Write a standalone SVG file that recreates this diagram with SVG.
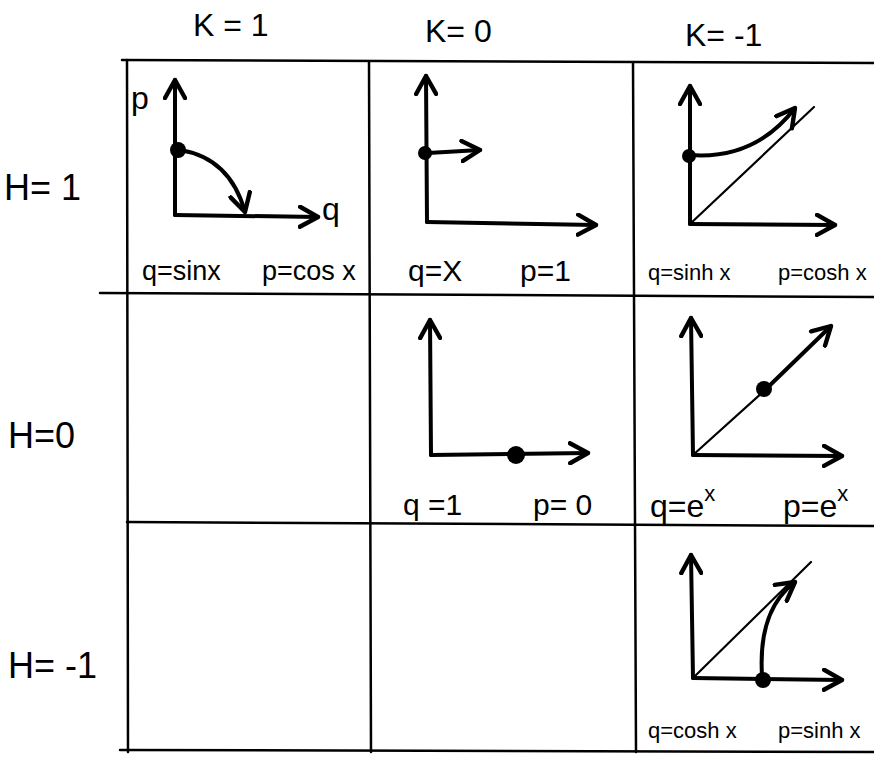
<svg xmlns="http://www.w3.org/2000/svg" width="874" height="779" viewBox="0 0 874 779">
<style>
.grid{stroke:#000;stroke-width:2.5;fill:none;stroke-linecap:round}
.ax{stroke:#000;stroke-width:4;fill:none;stroke-linecap:round;marker-end:url(#ah)}
.thin{stroke:#000;stroke-width:2.2;fill:none;stroke-linecap:round}
.curve{stroke:#000;stroke-width:4;fill:none;stroke-linecap:round;marker-end:url(#ah)}
.hd{font-family:"Liberation Sans",Arial,sans-serif;font-size:32px;fill:#000}
.lb{font-family:"Liberation Sans",Arial,sans-serif;font-size:27px;fill:#000}
.sm{font-family:"Liberation Sans",Arial,sans-serif;font-size:22px;fill:#000}
.ax-lbl{font-family:"Liberation Sans",Arial,sans-serif;font-size:32px;fill:#000}
.sup{font-size:22px}
</style>
<defs>
<marker id="ah" viewBox="0 0 12 12" refX="10" refY="6" markerWidth="6" markerHeight="6" orient="auto" markerUnits="strokeWidth">
<path d="M1,1 L10,6 L1,11" fill="none" stroke="#000" stroke-width="2.2" stroke-linecap="round" stroke-linejoin="round"/>
</marker>
</defs>
<rect width="874" height="779" fill="#fff"/>
<g id="headers">
<text class="hd" x="193" y="36">K = 1</text>
<text class="hd" x="425" y="42">K= 0</text>
<text class="hd" x="685" y="46">K= -1</text>
<text class="hd" x="4" y="200" style="font-size:36px">H= 1</text>
<text class="hd" x="8" y="448" style="font-size:36px">H=0</text>
<text class="hd" x="8" y="678" style="font-size:36px">H= -1</text>
</g>
<g id="grid">
<line class="grid" x1="122" y1="60" x2="874" y2="63"/>
<line class="grid" x1="127" y1="60" x2="128" y2="752"/>
<line class="grid" x1="369" y1="62" x2="371" y2="752"/>
<line class="grid" x1="633" y1="63" x2="636" y2="752"/>
<line class="grid" x1="100" y1="293" x2="874" y2="297"/>
<line class="grid" x1="127" y1="522" x2="874" y2="526"/>
<line class="grid" x1="120" y1="750" x2="874" y2="752"/>
</g>
<g id="cell-k1-h1">
<line class="ax" x1="175" y1="215" x2="175" y2="80"/>
<line class="ax" x1="175" y1="215" x2="318" y2="217"/>
<text class="ax-lbl" x="131" y="109">p</text>
<text class="ax-lbl" x="322" y="220">q</text>
<path class="curve" d="M180,150 Q230,158 245,212"/>
<circle cx="178" cy="150" r="8"/>
<text class="lb" x="142" y="280">q=sinx</text>
<text class="lb" x="262" y="280">p=cos x</text>
</g>
<g id="cell-k0-h1">
<line class="ax" x1="427" y1="222" x2="426" y2="76"/>
<line class="ax" x1="427" y1="222" x2="596" y2="225"/>
<path class="curve" d="M428,153 L480,150"/>
<circle cx="425" cy="153" r="7"/>
<text class="lb" x="408" y="281" style="font-size:30px">q=X</text>
<text class="lb" x="520" y="281" style="font-size:30px">p=1</text>
</g>
<g id="cell-km1-h1">
<line class="ax" x1="690" y1="224" x2="690" y2="86"/>
<line class="ax" x1="690" y1="224" x2="835" y2="225"/>
<line class="thin" x1="690" y1="224" x2="814" y2="107"/>
<path class="curve" d="M690,155 Q755,160 795,108"/>
<circle cx="689" cy="156" r="7"/>
<text class="sm" x="648" y="280">q=sinh x</text>
<text class="sm" x="778" y="280">p=cosh x</text>
</g>
<g id="cell-k0-h0">
<line class="ax" x1="431" y1="455" x2="430" y2="320"/>
<line class="ax" x1="431" y1="455" x2="588" y2="453"/>
<circle cx="516" cy="455" r="9"/>
<text class="lb" x="403" y="515" style="font-size:30px">q =1</text>
<text class="lb" x="533" y="515" style="font-size:30px">p= 0</text>
</g>
<g id="cell-km1-h0">
<line class="ax" x1="693" y1="455" x2="691" y2="318"/>
<line class="ax" x1="693" y1="455" x2="842" y2="456"/>
<line class="thin" x1="693" y1="455" x2="765" y2="390"/>
<path class="curve" d="M765,390 L831,326"/>
<circle cx="764" cy="389" r="8"/>
<text class="lb" x="650" y="517" style="font-size:32px">q=e<tspan class="sup" dy="-16">x</tspan></text>
<text class="lb" x="783" y="517" style="font-size:32px">p=e<tspan class="sup" dy="-16">x</tspan></text>
</g>
<g id="cell-km1-hm1">
<line class="ax" x1="693" y1="678" x2="691" y2="555"/>
<line class="ax" x1="693" y1="678" x2="842" y2="680"/>
<line class="thin" x1="693" y1="678" x2="811" y2="562"/>
<path class="curve" d="M762,675 Q758,610 795,582"/>
<circle cx="763" cy="680" r="8"/>
<text class="sm" x="648" y="738">q=cosh x</text>
<text class="sm" x="778" y="738">p=sinh x</text>
</g>
</svg>
